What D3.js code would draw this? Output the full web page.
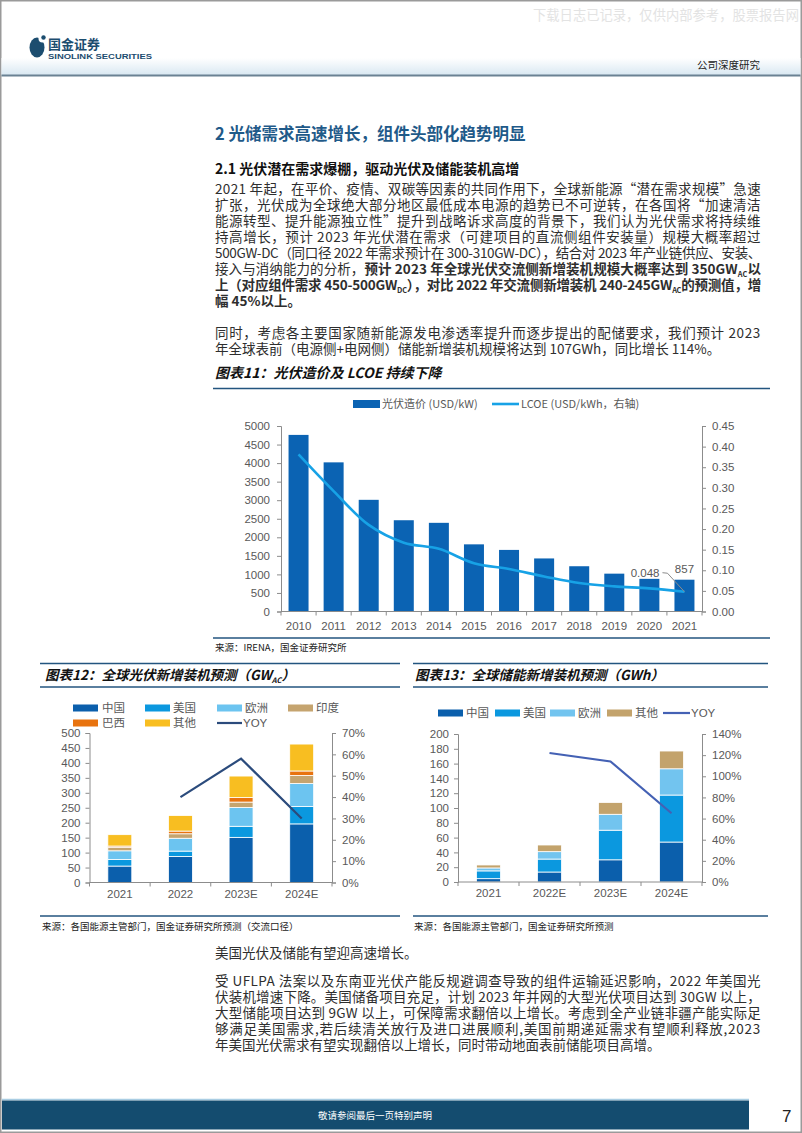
<!DOCTYPE html>
<html><head><meta charset="utf-8">
<script src="https://cdn.jsdelivr.net/npm/d3@7"></script>
<style>
html,body{margin:0;padding:0;background:#fff;}
svg{display:block;}
</style></head><body>
<svg id="page" width="802" height="1133"></svg>
<script>
// ---------- DATA ----------
const years11 = ['2010','2011','2012','2013','2014','2015','2016','2017','2018','2019','2020','2021'];
const cost11 = [4760, 4020, 3010, 2460, 2390, 1810, 1660, 1430, 1220, 1020, 880, 857];
const lcoe11 = [0.381, 0.292, 0.210, 0.167, 0.152, 0.117, 0.103, 0.085, 0.069, 0.061, 0.056, 0.048];
const ticksL11 = [0,500,1000,1500,2000,2500,3000,3500,4000,4500,5000];
const ticksR11 = [0,0.05,0.10,0.15,0.20,0.25,0.30,0.35,0.40,0.45];

const cats12 = ['2021','2022','2023E','2024E'];
const keys12 = ['中国','美国','欧洲','印度','巴西','其他'];
const china12 = [55, 87, 151, 196];
const us12 = [22, 18, 37, 58];
const eu12 = [29, 43, 63, 77];
const india12 = [12, 15, 18, 27];
const brazil12 = [4, 9, 15, 15];
const other12 = [38, 52, 72, 90];
const yoy12 = [null, 40, 58, 30];
const ticksL12 = [0,50,100,150,200,250,300,350,400,450,500];
const ticksR12 = [0,10,20,30,40,50,60,70];

const cats13 = ['2021','2022E','2023E','2024E'];
const keys13 = ['中国','美国','欧洲','其他'];
const china13 = [4.5, 13.5, 30, 54];
const us13 = [10.5, 17.5, 40, 63.5];
const eu13 = [4, 10, 21.5, 35.5];
const other13 = [4, 9, 16, 24];
const yoy13 = [null, 122, 114, 65];
const ticksL13 = [0,20,40,60,80,100,120,140,160,180,200];
const ticksR13 = [0,20,40,60,80,100,120,140];

// ---------- SETUP ----------
const CN = '"Noto Sans CJK SC", sans-serif';
const AR = '"Liberation Sans", Arial, sans-serif';
const svg = d3.select('#page');
const TXT = '#2e2e2e', AXC = '#8c8c8c', LAB = '#595959', NAVY = '#23557f';

svg.append('rect').attr('x',0.75).attr('y',0.75).attr('width',800.5).attr('height',1131.5)
  .attr('fill','none').attr('stroke','#9a9a9a').attr('stroke-width',1.5);

const defs = svg.append('defs');
const gr = defs.append('linearGradient').attr('id','hg').attr('x1',0).attr('y1',0).attr('x2',0).attr('y2',1);
gr.append('stop').attr('offset','0%').attr('stop-color','#ffffff');
gr.append('stop').attr('offset','100%').attr('stop-color','#d9e8f2');
svg.append('rect').attr('x',1.5).attr('y',58).attr('width',799).attr('height',17).attr('fill','url(#hg)');
svg.append('line').attr('x1',1.5).attr('x2',800.5).attr('y1',75.5).attr('y2',75.5).attr('stroke','#6a8293').attr('stroke-width',2);

svg.append('text').attr('x',533).attr('y',20).attr('font-family',CN).attr('font-size',13.3)
  .attr('fill','#e3e3e3').text('下载日志已记录，仅供内部参考，股票报告网');

const logo = svg.append('g');
logo.append('ellipse').attr('cx',37).attr('cy',47.5).attr('rx',7.5).attr('ry',10).attr('fill','#1c4d6f');
logo.append('circle').attr('cx',42.5).attr('cy',38.5).attr('r',4).attr('fill','#fff');
logo.append('circle').attr('cx',43.5).attr('cy',37.5).attr('r',2.2).attr('fill','#1c4d6f');
logo.append('text').attr('x',48).attr('y',49).attr('font-family',CN).attr('font-weight',700)
  .attr('font-size',13).attr('fill','#1c4d6f').text('国金证券');
logo.append('text').attr('x',48).attr('y',59).attr('font-family',AR).attr('font-weight',700)
  .attr('font-size',7).attr('fill','#1c4d6f').attr('textLength',104).attr('lengthAdjust','spacingAndGlyphs').text('SINOLINK SECURITIES');
svg.append('text').attr('x',697).attr('y',69).attr('font-family',CN).attr('font-size',10.5)
  .attr('fill','#222').text('公司深度研究');

// ---------- TEXT HELPERS ----------
function tline(x, yc, segs, width, size, color, family){
  size = size || 13.5; color = color || TXT; family = family || CN;
  const t = svg.append('text').attr('x',x).attr('y',yc + size*0.36)
    .attr('font-family',family).attr('font-size',size).attr('fill',color);
  let n = 0, prevSub = false;
  segs.forEach(s => {
    const str = s[0], st = s[1] || '';
    const sp = t.append('tspan').text(str);
    if (st.includes('b')) sp.attr('font-weight',700);
    if (st.includes('s')) { sp.attr('font-size',size*0.55).attr('dy', prevSub?0:3); prevSub = true; }
    else { if (prevSub) sp.attr('dy',-3); prevSub = false; }
    n += str.length;
  });
  if (width){
    const len = t.node().getComputedTextLength();
    t.attr('letter-spacing', (width - len) / n);
  }
  return t;
}

tline(215, 134, [['2 光储需求高速增长，组件头部化趋势明显','b']], null, 16.5, '#1f5a89');
tline(215, 169, [['2.1 光伏潜在需求爆棚，驱动光伏及储能装机高增','b']], null, 14, '#111');

const PW = 546, LS = 16;
const para1 = [
  [[ '2021 年起，在平价、疫情、双碳等因素的共同作用下，全球新能源“潜在需求规模”急速' ]],
  [[ '扩张，光伏成为全球绝大部分地区最低成本电源的趋势已不可逆转，在各国将“加速清洁' ]],
  [[ '能源转型、提升能源独立性”提升到战略诉求高度的背景下，我们认为光伏需求将持续维' ]],
  [[ '持高增长，预计 2023 年光伏潜在需求（可建项目的直流侧组件安装量）规模大概率超过' ]],
  [[ '500GW-DC（同口径 2022 年需求预计在 300-310GW-DC），结合对 2023 年产业链供应、安装、' ]],
  [[ '接入与消纳能力的分析，' ], ['预计 2023 年全球光伏交流侧新增装机规模大概率达到 350GW','b'], ['AC','bs'], ['以','b']],
  [[ '上（对应组件需求 450-500GW','b'], ['DC','bs'], ['），对比 2022 年交流侧新增装机 240-245GW','b'], ['AC','bs'], ['的预测值，增','b']],
];
const P1 = 189;
para1.forEach((segs,i) => tline(215, P1 + i*LS, segs, PW));
tline(215, P1 + 7*LS, [['幅 45%以上。','b']]);
const P2 = 333;
tline(215, P2, [['同时，考虑各主要国家随新能源发电渗透率提升而逐步提出的配储要求，我们预计 2023']], PW);
tline(215, P2 + LS, [['年全球表前（电源侧+电网侧）储能新增装机规模将达到 107GWh，同比增长 114%。']]);

// ---------- AXIS HELPERS ----------
function styleAxis(g){
  g.selectAll('path,line').attr('stroke',AXC).attr('stroke-width',1);
  g.selectAll('text').attr('fill',LAB).attr('font-size',11.5).attr('font-family',AR);
}
function catAxis(x, y0, labelDy){
  const g = svg.append('g');
  const [r0,r1] = x.range();
  g.append('line').attr('x1',r0).attr('x2',r1).attr('y1',y0).attr('y2',y0).attr('stroke',AXC);
  const n = x.domain().length;
  d3.range(n+1).forEach(i => {
    const xx = r0 + (r1-r0)*i/n;
    g.append('line').attr('x1',xx).attr('x2',xx).attr('y1',y0).attr('y2',y0+4).attr('stroke',AXC);
  });
  x.domain().forEach(c => {
    g.append('text').attr('x',x(c)+x.bandwidth()/2).attr('y',y0+labelDy).attr('text-anchor','middle')
      .attr('fill',LAB).attr('font-size',11.5).attr('font-family',AR).text(c);
  });
}
function chartTitle(x, y, text, sub, size){
  const t = svg.append('text').attr('x',x).attr('y',y+5).attr('font-family',CN).attr('font-size',size||13.5)
    .attr('font-weight',700).attr('font-style','italic').attr('fill','#111').text(text);
  if (sub){
    t.append('tspan').attr('font-size',7.5).attr('dy',3).text(sub);
    t.append('tspan').attr('dy',-3).text('）');
  }
}
function hline(x1,x2,y,w){
  svg.append('line').attr('x1',x1).attr('x2',x2).attr('y1',y).attr('y2',y).attr('stroke',NAVY).attr('stroke-width',w||1.3);
}
function source(x,y,text){
  svg.append('text').attr('x',x).attr('y',y+3.5).attr('font-family',CN).attr('font-size',9.5).attr('fill','#222').text(text);
}

// ---------- CHART 11 ----------
chartTitle(215, 373, '图表11：光伏造价及 LCOE 持续下降', null, 14);
hline(213, 770, 388.5, 1.6);
{
  const x = d3.scaleBand().domain(years11).range([281,702]).paddingInner(0.43).paddingOuter(0.215);
  const yL = d3.scaleLinear().domain([0,5000]).range([611.5,426]);
  const yR = d3.scaleLinear().domain([0,0.45]).range([611.5,426]);
  svg.append('g').selectAll('rect').data(years11).join('rect')
    .attr('x',d=>x(d)).attr('width',x.bandwidth())
    .attr('y',(d,i)=>yL(cost11[i])).attr('height',(d,i)=>yL(0)-yL(cost11[i]))
    .attr('fill','#0b63b3');
  const gl = svg.append('g').attr('transform','translate(281,0)')
    .call(d3.axisLeft(yL).tickValues(ticksL11).tickSize(4).tickPadding(7).tickFormat(d3.format('d')));
  styleAxis(gl);
  const gr2 = svg.append('g').attr('transform','translate(702,0)')
    .call(d3.axisRight(yR).tickValues(ticksR11).tickSize(4).tickPadding(6).tickFormat(d3.format('.2f')));
  styleAxis(gr2);
  catAxis(x, 611.5, 18);
  const line = d3.line().x((d,i)=>x(years11[i])+x.bandwidth()/2).y(d=>yR(d)).curve(d3.curveCatmullRom.alpha(0.5));
  svg.append('path').datum(lcoe11).attr('d',line).attr('fill','none').attr('stroke','#17a2e6').attr('stroke-width',2.6);
  const last = years11.length-1;
  const px = x(years11[last])+x.bandwidth()/2, py = yR(lcoe11[last]);
  svg.append('text').attr('x',px-25).attr('y',py-15).attr('text-anchor','end').attr('font-family',AR)
    .attr('font-size',11.5).attr('fill',LAB).text(d3.format('.3f')(lcoe11[last]));
  svg.append('path').attr('d',`M${px-22},${py-19} L${px-17},${py-18.5} L${px},${py}`)
    .attr('fill','none').attr('stroke','#8c8c8c').attr('stroke-width',1);
  svg.append('text').attr('x',px).attr('y',yL(cost11[last])-7).attr('text-anchor','middle').attr('font-family',AR)
    .attr('font-size',11.5).attr('fill',LAB).text(cost11[last]);
  svg.append('rect').attr('x',353).attr('y',400).attr('width',27).attr('height',8).attr('fill','#0b63b3');
  svg.append('text').attr('x',382).attr('y',408).attr('font-family',CN).attr('font-size',11).attr('fill',LAB).text('光伏造价 (USD/kW)');
  svg.append('line').attr('x1',492).attr('x2',519).attr('y1',404).attr('y2',404).attr('stroke','#17a2e6').attr('stroke-width',2.6);
  svg.append('text').attr('x',521).attr('y',408).attr('font-family',CN).attr('font-size',11).attr('fill',LAB).text('LCOE (USD/kWh，右轴)');
}
hline(213, 770, 638, 1.3);
source(215, 647, '来源：IRENA，国金证券研究所');

// ---------- CHART 12 ----------
hline(40, 400, 663.5, 1.3);
chartTitle(45, 675, '图表12：全球光伏新增装机预测（GW', 'AC');
hline(40, 400, 687, 1.3);
{
  const series = [china12, us12, eu12, india12, brazil12, other12];
  const colors = ['#0b5fac','#0b98df','#6cc4f0','#c5a46f','#e8730f','#f8be21'];
  const rows = cats12.map((c,i)=>{const r={cat:c}; keys12.forEach((k,j)=>r[k]=series[j][i]); return r;});
  const st = d3.stack().keys(keys12)(rows);
  const x = d3.scaleBand().domain(cats12).range([89.5,332]).paddingInner(0.605).paddingOuter(0.3025);
  const y = d3.scaleLinear().domain([0,500]).range([882.5,733]);
  const yR = d3.scaleLinear().domain([0,70]).range([882.5,733]);
  st.forEach((s,j)=>{
    svg.append('g').selectAll('rect').data(s).join('rect')
      .attr('x',d=>x(d.data.cat)).attr('width',x.bandwidth())
      .attr('y',d=>y(d[1])).attr('height',d=>y(d[0])-y(d[1]))
      .attr('fill',colors[j]).attr('stroke','#fff').attr('stroke-width',0.8);
  });
  const gl = svg.append('g').attr('transform','translate(89.5,0)')
    .call(d3.axisLeft(y).tickValues(ticksL12).tickSize(4).tickPadding(5));
  styleAxis(gl);
  const gr3 = svg.append('g').attr('transform','translate(332,0)')
    .call(d3.axisRight(yR).tickValues(ticksR12).tickSize(4).tickPadding(6).tickFormat(d=>d+'%'));
  styleAxis(gr3);
  catAxis(x, 882.5, 15);
  const line = d3.line().defined(d=>d!=null).x((d,i)=>x(cats12[i])+x.bandwidth()/2).y(d=>yR(d));
  svg.append('path').datum(yoy12).attr('d',line).attr('fill','none').attr('stroke','#2b4b7c').attr('stroke-width',2.2);
  const lx = [73,145,217,288], lt = [102,173,245,316];
  const items = keys12.map((k,j)=>({k, c:colors[j]})).concat([{k:'YOY', line:true, c:'#2b4b7c'}]);
  items.forEach((it,i)=>{
    const col = i%4, row = Math.floor(i/4);
    const yy = 708 + row*15;
    if (it.line) svg.append('line').attr('x1',lx[col]).attr('x2',lx[col]+25).attr('y1',yy).attr('y2',yy).attr('stroke',it.c).attr('stroke-width',2.2);
    else svg.append('rect').attr('x',lx[col]).attr('y',yy-3.5).attr('width',25).attr('height',7).attr('fill',it.c);
    svg.append('text').attr('x',it.line?lx[col]+26:lt[col]).attr('y',yy+4).attr('font-family',it.line?AR:CN)
      .attr('font-size',11.5).attr('fill',LAB).text(it.k);
  });
}
hline(40, 400, 916, 1.3);
source(42, 926, '来源：各国能源主管部门，国金证券研究所预测（交流口径）');

// ---------- CHART 13 ----------
hline(413, 768, 663.5, 1.3);
chartTitle(415, 675, '图表13：全球储能新增装机预测（GWh）');
hline(413, 768, 687, 1.3);
{
  const series = [china13, us13, eu13, other13];
  const colors = ['#0b5fac','#0b98df','#72c4ef','#c3a36c'];
  const rows = cats13.map((c,i)=>{const r={cat:c}; keys13.forEach((k,j)=>r[k]=series[j][i]); return r;});
  const st = d3.stack().keys(keys13)(rows);
  const x = d3.scaleBand().domain(cats13).range([458,702]).paddingInner(0.605).paddingOuter(0.3025);
  const y = d3.scaleLinear().domain([0,200]).range([882,734]);
  const yR = d3.scaleLinear().domain([0,140]).range([882,734]);
  st.forEach((s,j)=>{
    svg.append('g').selectAll('rect').data(s).join('rect')
      .attr('x',d=>x(d.data.cat)).attr('width',x.bandwidth())
      .attr('y',d=>y(d[1])).attr('height',d=>y(d[0])-y(d[1]))
      .attr('fill',colors[j]).attr('stroke','#fff').attr('stroke-width',0.8);
  });
  const gl = svg.append('g').attr('transform','translate(458,0)')
    .call(d3.axisLeft(y).tickValues(ticksL13).tickSize(4).tickPadding(5));
  styleAxis(gl);
  const gr4 = svg.append('g').attr('transform','translate(702,0)')
    .call(d3.axisRight(yR).tickValues(ticksR13).tickSize(4).tickPadding(6).tickFormat(d=>d+'%'));
  styleAxis(gr4);
  catAxis(x, 882, 15);
  const line = d3.line().defined(d=>d!=null).x((d,i)=>x(cats13[i])+x.bandwidth()/2).y(d=>yR(d));
  svg.append('path').datum(yoy13).attr('d',line).attr('fill','none').attr('stroke','#4461b4').attr('stroke-width',2.2);
  const lx = [438,495,550,607,663];
  const items = keys13.map((k,j)=>({k, c:colors[j]})).concat([{k:'YOY', line:true, c:'#4461b4'}]);
  items.forEach((it,i)=>{
    const yy = 713;
    if (it.line) svg.append('line').attr('x1',lx[i]).attr('x2',lx[i]+27).attr('y1',yy).attr('y2',yy).attr('stroke',it.c).attr('stroke-width',2.2);
    else svg.append('rect').attr('x',lx[i]).attr('y',yy-3.5).attr('width',25).attr('height',7).attr('fill',it.c);
    svg.append('text').attr('x',lx[i]+28).attr('y',yy+4).attr('font-family',it.line?AR:CN)
      .attr('font-size',11.5).attr('fill',LAB).text(it.k);
  });
}
hline(413, 768, 916, 1.3);
source(414, 926, '来源：各国能源主管部门，国金证券研究所预测');

// ---------- BOTTOM TEXT ----------
tline(215, 953, [['美国光伏及储能有望迎高速增长。']]);
const para3 = [
  '受 UFLPA 法案以及东南亚光伏产能反规避调查导致的组件运输延迟影响，2022 年美国光',
  '伏装机增速下降。美国储备项目充足，计划 2023 年并网的大型光伏项目达到 30GW 以上，',
  '大型储能项目达到 9GW 以上，可保障需求翻倍以上增长。考虑到全产业链非疆产能实际足',
  '够满足美国需求,若后续清关放行及进口进展顺利,美国前期递延需求有望顺利释放,2023'
];
const P3 = 981;
para3.forEach((s,i)=>tline(215, P3 + i*LS, [[s]], PW));
tline(215, P3 + 4*LS, [['年美国光伏需求有望实现翻倍以上增长，同时带动地面表前储能项目高增。']]);

// ---------- FOOTER ----------
svg.append('line').attr('x1',2).attr('x2',749).attr('y1',1099.5).attr('y2',1099.5).attr('stroke','#a9cde3').attr('stroke-width',1.5);
svg.append('rect').attr('x',2).attr('y',1100.5).attr('width',747).attr('height',29).attr('fill','#144c6f');
svg.append('text').attr('x',375).attr('y',1119).attr('text-anchor','middle').attr('font-family',CN)
  .attr('font-size',9.5).attr('fill','#fff').text('敬请参阅最后一页特别声明');
svg.append('text').attr('x',782).attr('y',1122).attr('font-family',AR).attr('font-size',17).attr('fill','#222').text('7');
</script>
</body></html>
